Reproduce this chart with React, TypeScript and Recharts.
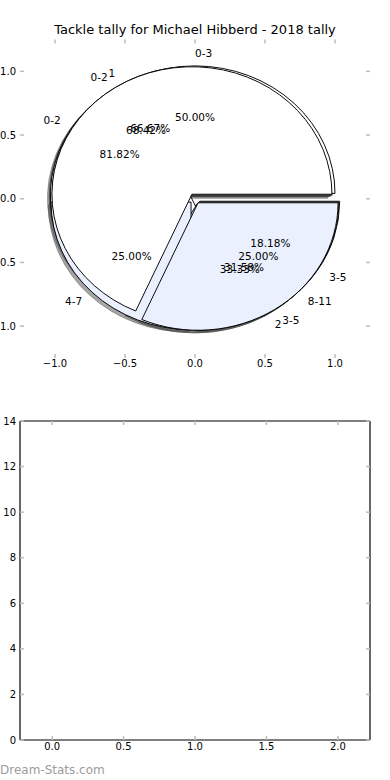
import {
  PieChart,
  Pie,
  Cell,
  Sector,
  ScatterChart,
  ComposedChart,
  Bar,
  XAxis,
  YAxis,
} from "recharts";

const title = "Tackle tally for Michael Hibberd - 2018 tally";

// four pies drawn on top of each other: tackle ranges and games in each
const pieOneNames = ["0-2", "3-5"];
const pieOneGames = [9, 2];
const pieTwoNames = ["1", "2"];
const pieTwoGames = [2, 1];
const pieThreeNames = ["0-3", "4-7", "8-11"];
const pieThreeGames = [2, 1, 1];
const pieFourNames = ["0-2", "3-5"];
const pieFourGames = [13, 6];

const sliceColors = ["#ffffff", "#eaf0fd"];

const pieTicks = [-1, -0.5, 0, 0.5, 1];
const barTicksX = [0, 0.5, 1, 1.5, 2];
const barTicksY = [0, 2, 4, 6, 8, 10, 12, 14];
const barX = [0, 1, 2];
const barValues = [0, 0, 0];

const FONT = "'DejaVu Sans', sans-serif";
const TICK_GREY = "#bdbdbd";

// pie geometry (matplotlib axes are not square, so the pie is an ellipse)
const CX = 195;
const CY = 198.5;
const R = 140;
const K = 127.5 / 140;
const EXPLODE = 0.04;
const SHADOW = 0.02;

const toSlices = (names: string[], values: number[]) =>
  names.map((name, i) => ({ name, value: values[i] }));

const pies = [
  toSlices(pieOneNames, pieOneGames),
  toSlices(pieTwoNames, pieTwoGames),
  toSlices(pieThreeNames, pieThreeGames),
  toSlices(pieFourNames, pieFourGames),
];

const fmt = (v: number) => v.toFixed(1).replace("-", "\u2212");

function makeWedge(shadow: boolean) {
  return (props: any) => {
    const { cx, cy, midAngle, outerRadius } = props;
    const a = (midAngle * Math.PI) / 180;
    let dx = EXPLODE * outerRadius * Math.cos(a);
    let dy = -EXPLODE * outerRadius * Math.sin(a);
    if (shadow) {
      dx -= SHADOW * outerRadius;
      dy += SHADOW * outerRadius;
    }
    return (
      <g
        transform={`translate(${cx} ${cy}) scale(1 ${K}) translate(${dx - cx} ${dy - cy})`}
      >
        <Sector {...props} />
      </g>
    );
  };
}

const wedge = makeWedge(false);
const shadowWedge = makeWedge(true);

function renderLabel(props: any) {
  const { midAngle, percent, name } = props;
  const a = (midAngle * Math.PI) / 180;
  const c = Math.cos(a);
  const s = Math.sin(a);
  const lx = CX + (EXPLODE * c + 1.1 * c) * R;
  const ly = CY - (EXPLODE * s + 1.1 * s) * R * K;
  const px = CX + (EXPLODE * c + 0.6 * c) * R;
  const py = CY - (EXPLODE * s + 0.6 * s) * R * K;
  return (
    <g fontFamily={FONT} fontSize={10.5} fill="#000">
      <text x={lx} y={ly} textAnchor={c > 0 ? "start" : "end"} dominantBaseline="central">
        {name}
      </text>
      <text x={px} y={py} textAnchor="middle" dominantBaseline="central">
        {(percent * 100).toFixed(2)}%
      </text>
    </g>
  );
}

const tickStyle = { fill: "#000", fontSize: 10, fontFamily: FONT };
const tickLine = { stroke: TICK_GREY, strokeWidth: 1.5 };

function PieAxes() {
  return (
    <ScatterChart
      width={390}
      height={400}
      margin={{ top: 38.5, right: 0, bottom: 12, left: 0 }}
    >
      <XAxis
        xAxisId="b"
        type="number"
        dataKey="x"
        domain={[-1.25, 1.25]}
        ticks={pieTicks}
        allowDataOverflow
        interval={0}
        tickFormatter={fmt}
        axisLine={false}
        tickLine={tickLine}
        tickSize={-4}
        tickMargin={6}
        height={30}
        tick={tickStyle}
      />
      <XAxis
        xAxisId="t"
        orientation="top"
        type="number"
        dataKey="x"
        domain={[-1.25, 1.25]}
        ticks={pieTicks}
        allowDataOverflow
        interval={0}
        tickFormatter={() => ""}
        axisLine={false}
        tickLine={tickLine}
        tickSize={-4}
        height={1}
      />
      <YAxis
        yAxisId="l"
        type="number"
        dataKey="y"
        domain={[-1.25, 1.25]}
        ticks={pieTicks}
        allowDataOverflow
        interval={0}
        tickFormatter={fmt}
        axisLine={false}
        tickLine={tickLine}
        tickSize={-4}
        tickMargin={8}
        width={20}
        tick={tickStyle}
      />
      <YAxis
        yAxisId="r"
        orientation="right"
        type="number"
        dataKey="y"
        domain={[-1.25, 1.25]}
        ticks={pieTicks}
        allowDataOverflow
        interval={0}
        tickFormatter={() => ""}
        axisLine={false}
        tickLine={tickLine}
        tickSize={-4}
        width={20}
      />
    </ScatterChart>
  );
}

function TacklePies() {
  return (
    <PieChart width={390} height={400} margin={{ top: 0, right: 0, bottom: 0, left: 0 }}>
      {pies.map((data, p) => (
        <Pie
          key={`shadow-${p}`}
          data={data}
          dataKey="value"
          nameKey="name"
          cx={CX}
          cy={CY}
          outerRadius={R}
          startAngle={0}
          endAngle={360}
          fill="#4d4d4d"
          fillOpacity={0.5}
          stroke="#4d4d4d"
          strokeOpacity={0.5}
          shape={shadowWedge}
          inactiveShape={shadowWedge}
          isAnimationActive={false}
        />
      ))}
      {pies.map((data, p) => (
        <Pie
          key={`pie-${p}`}
          data={data}
          dataKey="value"
          nameKey="name"
          cx={CX}
          cy={CY}
          outerRadius={R}
          startAngle={0}
          endAngle={360}
          stroke="#000"
          strokeWidth={1}
          shape={wedge}
          inactiveShape={wedge}
          isAnimationActive={false}
        >
          {data.map((d, i) => (
            <Cell key={d.name + i} fill={sliceColors[i % sliceColors.length]} />
          ))}
        </Pie>
      ))}
      {pies.map((data, p) => (
        <Pie
          key={`labels-${p}`}
          data={data}
          dataKey="value"
          nameKey="name"
          cx={CX}
          cy={CY}
          outerRadius={R}
          startAngle={0}
          endAngle={360}
          fill="none"
          stroke="none"
          label={renderLabel}
          labelLine={false}
          isAnimationActive={false}
        />
      ))}
    </PieChart>
  );
}

function TallyBars() {
  const data = barX.map((x, i) => ({ x, tackles: barValues[i] }));
  return (
    <ComposedChart
      width={390}
      height={380}
      data={data}
      margin={{ top: 20, right: 0, bottom: 10, left: 0 }}
    >
      <XAxis
        xAxisId="b"
        type="number"
        dataKey="x"
        domain={[-0.225, 2.225]}
        ticks={barTicksX}
        allowDataOverflow
        interval={0}
        tickFormatter={fmt}
        axisLine={{ stroke: "#000", strokeWidth: 1.2 }}
        tickLine={tickLine}
        tickSize={-4}
        tickMargin={7}
        height={30}
        tick={tickStyle}
      />
      <XAxis
        xAxisId="t"
        orientation="top"
        type="number"
        dataKey="x"
        domain={[-0.225, 2.225]}
        ticks={barTicksX}
        allowDataOverflow
        interval={0}
        tickFormatter={() => ""}
        axisLine={{ stroke: "#000", strokeWidth: 1.2 }}
        tickLine={tickLine}
        tickSize={-4}
        height={1}
      />
      <YAxis
        yAxisId="l"
        type="number"
        domain={[0, 14]}
        ticks={barTicksY}
        allowDataOverflow
        interval={0}
        axisLine={{ stroke: "#000", strokeWidth: 1.2 }}
        tickLine={tickLine}
        tickSize={-4}
        tickMargin={8}
        width={20}
        tick={tickStyle}
      />
      <YAxis
        yAxisId="r"
        orientation="right"
        type="number"
        domain={[0, 14]}
        ticks={barTicksY}
        allowDataOverflow
        interval={0}
        tickFormatter={() => ""}
        axisLine={{ stroke: "#000", strokeWidth: 1.2 }}
        tickLine={tickLine}
        tickSize={-4}
        width={20}
      />
      <Bar
        xAxisId="b"
        yAxisId="l"
        dataKey="tackles"
        barSize={60}
        fill={sliceColors[1]}
        isAnimationActive={false}
      />
    </ComposedChart>
  );
}

export default function App() {
  return (
    <div
      style={{
        position: "absolute",
        left: 0,
        top: 0,
        width: 390,
        height: 780,
        background: "#fff",
        overflow: "hidden",
        fontFamily: FONT,
      }}
    >
      <div
        style={{
          position: "absolute",
          top: 22,
          left: 0,
          width: 390,
          textAlign: "center",
          fontSize: 13,
          lineHeight: "16px",
          color: "#000",
        }}
      >
        {title}
      </div>
      <div style={{ position: "absolute", top: 0, left: 0 }}>
        <PieAxes />
      </div>
      <div style={{ position: "absolute", top: 0, left: 0 }}>
        <TacklePies />
      </div>
      <div style={{ position: "absolute", top: 400, left: 0 }}>
        <TallyBars />
      </div>
      <div
        style={{
          position: "absolute",
          top: 763,
          left: 0,
          fontSize: 12,
          lineHeight: "14px",
          color: "#9c9c9c",
        }}
      >
        Dream-Stats.com
      </div>
    </div>
  );
}
